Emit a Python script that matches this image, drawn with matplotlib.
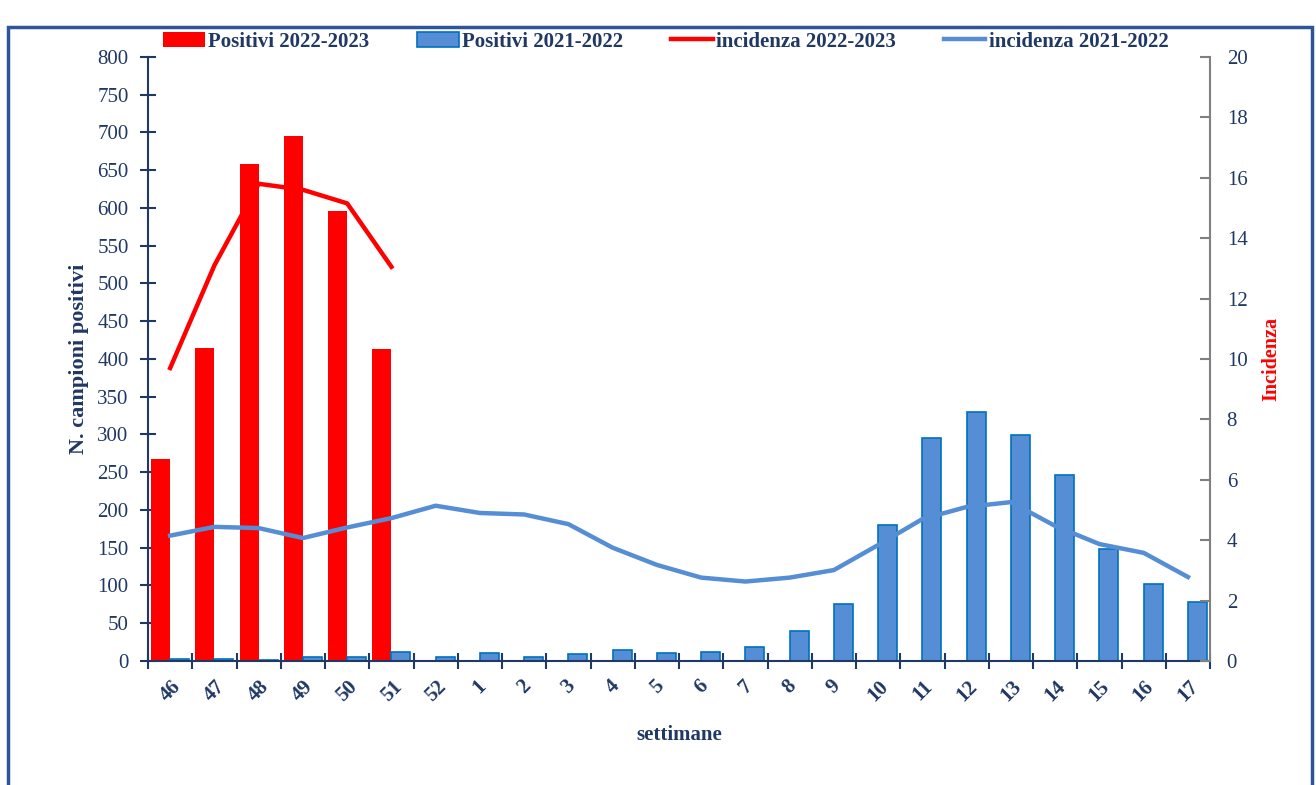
import matplotlib
matplotlib.use("Agg")
import matplotlib.pyplot as plt
from matplotlib.patches import Rectangle
import numpy as np

plt.rcParams['font.family'] = ['Liberation Serif', 'DejaVu Serif']

# settimane (46-2022 ... 17-2023)
settimane = ['46', '47', '48', '49', '50', '51', '52', '1', '2', '3', '4', '5',
             '6', '7', '8', '9', '10', '11', '12', '13', '14', '15', '16', '17']

# campioni positivi
pos_2223 = [268, 415, 658, 695, 596, 413]
pos_2122 = [3, 3, 1, 5, 5, 12, 5, 10, 5, 9, 15, 10, 12, 18, 40, 75,
            180, 295, 330, 299, 246, 148, 102, 78]

# incidenza
inc_2223 = [9.7, 13.1, 15.8, 15.6, 15.15, 13.05]
inc_2122 = [4.15, 4.44, 4.4, 4.07, 4.42, 4.73, 5.14, 4.9, 4.85, 4.53, 3.75, 3.18,
            2.76, 2.63, 2.76, 3.01, 3.84, 4.7, 5.1, 5.26, 4.47, 3.87, 3.58, 2.78]

navy = '#1F3864'
rosso = '#FF0000'
blu = '#558ED5'

fig = plt.figure(figsize=(13.16, 7.85), dpi=100)
ax = fig.add_axes([0.1125, 0.158, 0.807, 0.7695])

x = np.arange(len(settimane))
w = 0.43
ax.bar(x[:len(pos_2223)] - w / 2, pos_2223, w, color=rosso, label='Positivi 2022-2023', zorder=2)
ax.bar(x + w / 2, pos_2122, w, color=blu, edgecolor='#0070C0', linewidth=1.2,
       label='Positivi 2021-2022', zorder=2)

ax.set_xlim(-0.5, len(settimane) - 0.5)
ax.set_ylim(0, 800)
ax.set_yticks(range(0, 801, 50))
ax.set_xticks(x)
ax.set_xticklabels(settimane, rotation=45, fontweight='bold', fontsize=15, color=navy)
ax.set_xticks(np.arange(-0.5, len(settimane), 1), minor=True)
ax.tick_params(axis='x', which='major', length=0, pad=11)
ax.tick_params(axis='x', which='minor', direction='inout', length=12, width=1.5, color=navy)
ax.tick_params(axis='y', direction='inout', length=12, width=1.5, color=navy,
               labelsize=15, labelcolor=navy, pad=8)
ax.spines['top'].set_visible(False)
ax.spines['right'].set_visible(False)
ax.spines['left'].set_color(navy)
ax.spines['left'].set_linewidth(1.5)
ax.spines['bottom'].set_color(navy)
ax.spines['bottom'].set_linewidth(1.5)
ax.set_ylabel('N. campioni positivi', fontsize=16, fontweight='bold', color=navy, labelpad=6)
ax.set_xlabel('settimane', fontsize=15, fontweight='bold', color=navy, labelpad=14)

ax2 = ax.twinx()
ax2.plot(x[:len(inc_2223)], inc_2223, color=rosso, lw=3.2, label='incidenza 2022-2023')
ax2.plot(x, inc_2122, color=blu, lw=3.2, label='incidenza 2021-2022')
ax2.set_ylim(0, 20)
ax2.set_yticks(range(0, 21, 2))
ax2.tick_params(axis='y', direction='in', length=7, width=1.5, color='#808080',
                labelsize=15, labelcolor=navy, pad=12)
for s in ['top', 'left', 'bottom']:
    ax2.spines[s].set_visible(False)
ax2.spines['right'].set_color('#808080')
ax2.spines['right'].set_linewidth(1.5)
ax2.set_ylabel('Incidenza', fontsize=14.5, fontweight='bold', color=rosso, labelpad=10)

h1, l1 = ax.get_legend_handles_labels()
h2, l2 = ax2.get_legend_handles_labels()
fig.legend(h1 + h2, l1 + l2, loc='center', bbox_to_anchor=(0.506, 0.947), ncol=4,
           frameon=False, columnspacing=2.3, handlelength=2.0, handletextpad=0.15,
           prop={'weight': 'bold', 'size': 15}, labelcolor=navy)

# cornice
fig.patches.append(Rectangle((8 / 1316, -0.05), 1304 / 1316, 1.05 - 27 / 785,
                             transform=fig.transFigure, fill=False,
                             edgecolor='#2F5597', linewidth=2.5))

fig.savefig('out.png', dpi=100)
